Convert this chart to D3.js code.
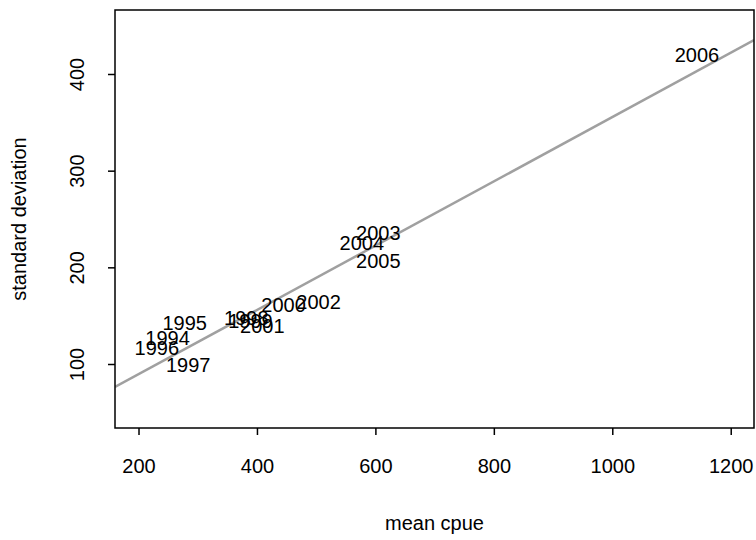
<!DOCTYPE html>
<html>
<head>
<meta charset="utf-8">
<script src="https://cdn.jsdelivr.net/npm/d3@7"></script>
<style>
  body { margin: 0; background: #fff; }
  text { font-family: "Liberation Sans", Arial, sans-serif; }
</style>
</head>
<body>
<div id="app"></div>
<script>
// year labels placed at (mean cpue, standard deviation)
const years = ['1994', '1995', '1996', '1997', '1998', '1999', '2000', '2001', '2002', '2003', '2004', '2005', '2006'];
const meanCpue = [249, 278, 231, 284, 382, 389, 445, 409, 504, 605, 577, 605, 1143];
const stdDev = [127, 142, 116.5, 99, 148, 145, 161, 139, 164, 235.5, 225, 206.5, 419.5];

const xTicks = [200, 400, 600, 800, 1000, 1200];
const yTicks = [100, 200, 300, 400];

// fitted line: sd = a + b * cpue
const fitIntercept = 22.9;
const fitSlope = 0.3325;

const width = 756;
const height = 540;
const margin = { top: 10, right: 2, bottom: 112, left: 115 };

const svg = d3.select('#app').append('svg')
    .attr('width', width)
    .attr('height', height);

const x = d3.scaleLinear()
    .domain([160.3, 1239.3])
    .range([margin.left, width - margin.right]);

const y = d3.scaleLinear()
    .domain([33.8, 466.2])
    .range([height - margin.bottom, margin.top]);

svg.append('defs').append('clipPath')
    .attr('id', 'plot-clip')
    .append('rect')
    .attr('x', margin.left)
    .attr('y', margin.top)
    .attr('width', width - margin.right - margin.left)
    .attr('height', height - margin.bottom - margin.top);

// regression line
const [x0, x1] = x.domain();
svg.append('line')
    .attr('clip-path', 'url(#plot-clip)')
    .attr('x1', x(x0))
    .attr('y1', y(fitIntercept + fitSlope * x0))
    .attr('x2', x(x1))
    .attr('y2', y(fitIntercept + fitSlope * x1))
    .attr('stroke', '#a0a0a0')
    .attr('stroke-width', 2.5);

// year labels
svg.append('g')
    .selectAll('text')
    .data(years)
    .join('text')
    .attr('x', (d, i) => x(meanCpue[i]))
    .attr('y', (d, i) => y(stdDev[i]))
    .attr('text-anchor', 'middle')
    .attr('dominant-baseline', 'central')
    .attr('font-size', '20px')
    .attr('fill', '#000')
    .text(d => d);

// box
svg.append('rect')
    .attr('x', margin.left)
    .attr('y', margin.top)
    .attr('width', width - margin.right - margin.left)
    .attr('height', height - margin.bottom - margin.top)
    .attr('fill', 'none')
    .attr('stroke', '#000')
    .attr('stroke-width', 1.5);

// x axis
const xAxis = svg.append('g')
    .attr('transform', `translate(0, ${height - margin.bottom})`)
    .call(d3.axisBottom(x).tickValues(xTicks).tickSize(7).tickPadding(24).tickFormat(d3.format('d')));
xAxis.select('.domain').remove();
xAxis.selectAll('.tick line').attr('stroke', '#000').attr('stroke-width', 1.5);
xAxis.selectAll('.tick text').attr('font-size', '20px').attr('fill', '#000')
    .attr('font-family', '"Liberation Sans", Arial, sans-serif');

// y axis
const yAxis = svg.append('g')
    .attr('transform', `translate(${margin.left}, 0)`)
    .call(d3.axisLeft(y).tickValues(yTicks).tickSize(7).tickFormat(d3.format('d')));
yAxis.select('.domain').remove();
yAxis.selectAll('.tick line').attr('stroke', '#000').attr('stroke-width', 1.5);
yAxis.selectAll('.tick text')
    .attr('font-size', '20px')
    .attr('fill', '#000')
    .attr('font-family', '"Liberation Sans", Arial, sans-serif')
    .attr('x', null)
    .attr('dy', null)
    .attr('text-anchor', 'middle')
    .attr('transform', 'translate(-31, 0) rotate(-90)');

// axis titles
svg.append('text')
    .attr('x', (margin.left + width - margin.right) / 2)
    .attr('y', 530)
    .attr('text-anchor', 'middle')
    .attr('font-size', '20px')
    .text('mean cpue');

svg.append('text')
    .attr('transform', `translate(26, ${(margin.top + height - margin.bottom) / 2}) rotate(-90)`)
    .attr('text-anchor', 'middle')
    .attr('font-size', '20px')
    .text('standard deviation');
</script>
</body>
</html>
